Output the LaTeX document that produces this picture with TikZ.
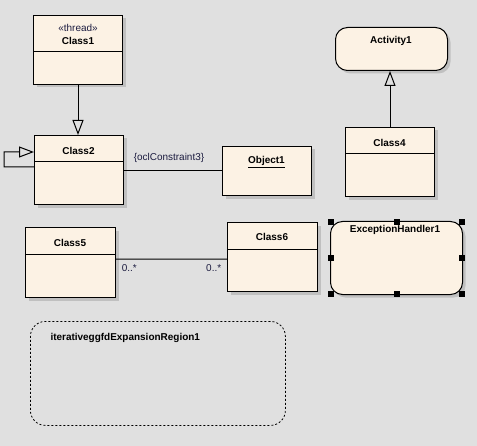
\documentclass[tikz,border=0pt]{standalone}
\usepackage{fontspec}
\setmainfont{Liberation Sans}
\usepackage{xcolor}
\usepackage{tikz}
\usetikzlibrary{arrows.meta,shadows}

\definecolor{bgcol}{RGB}{224,224,224}
\definecolor{boxfill}{RGB}{252,242,228}
\definecolor{shadowcol}{RGB}{192,192,192}
\definecolor{labelcol}{RGB}{28,28,64}

\tikzset{
  boxshadow/.style={drop shadow={shadow xshift=3bp, shadow yshift=-3bp, fill=shadowcol, opacity=1}},
  classbox/.style={draw=black, line width=1bp, fill=boxfill, anchor=north west, inner sep=0pt, boxshadow},
  activitybox/.style={classbox, rounded corners=12bp},
  regionbox/.style={draw=black, line width=0.8bp, dash pattern=on 2bp off 2bp, rounded corners=15bp, anchor=north west, inner sep=0pt},
  divider/.style={line width=1bp},
  title/.style={font=\bfseries\fontsize{10}{12}\selectfont, text=black},
  tag/.style={font=\fontsize{10}{12}\selectfont, text=labelcol},
  gen/.style={line width=1bp, -{Triangle[open, length=15bp, width=11bp]}},
  assoc/.style={line width=1bp},
  handle/.style={fill=black, minimum size=6bp, inner sep=0pt}
}

\begin{document}
\begin{tikzpicture}[x=1bp, y=-1bp]
\fill[bgcol] (0,0) rectangle (477,446);
\useasboundingbox (0,0) rectangle (477,446);

% classes
\node[classbox, minimum width=89bp, minimum height=69bp] (c1) at (33,15) {};
\node[tag] (c1tag) at (78,28) {«thread»};
\node[title] (c1name) at (78,41) {Class1};
\draw[divider] ([yshift=-37bp]c1.north west) -- ([yshift=-37bp]c1.north east);

\node[classbox, minimum width=89bp, minimum height=69bp] (c2) at (34,135) {};
\node[title] (c2name) at (78.5,151) {Class2};
\draw[divider] ([yshift=-27bp]c2.north west) -- ([yshift=-27bp]c2.north east);

\node[classbox, minimum width=89bp, minimum height=49bp] (obj1) at (222,146) {};
\node[title] (obj1name) at (266.5,162) {\underline{Object1}};

\node[activitybox, minimum width=112bp, minimum height=43bp] (act1) at (335,27) {};
\node[title] (act1name) at (391,41) {Activity1};

\node[classbox, minimum width=89bp, minimum height=69bp] (c4) at (345,127) {};
\node[title] (c4name) at (389.5,143) {Class4};
\draw[divider] ([yshift=-27bp]c4.north west) -- ([yshift=-27bp]c4.north east);

\node[classbox, minimum width=90bp, minimum height=70bp] (c5) at (25,227) {};
\node[title] (c5name) at (70,243) {Class5};
\draw[divider] ([yshift=-27bp]c5.north west) -- ([yshift=-27bp]c5.north east);

\node[classbox, minimum width=90bp, minimum height=69bp] (c6) at (227,222) {};
\node[title] (c6name) at (272,237) {Class6};
\draw[divider] ([yshift=-27bp]c6.north west) -- ([yshift=-27bp]c6.north east);

\node[activitybox, minimum width=132bp, minimum height=73bp] (exc1) at (330,221) {};
\node[title] (exc1name) at (395,230) {ExceptionHandler1};

\node[handle] (h1) at ([xshift=1bp, yshift=-1bp]exc1.north west) {};
\node[handle] (h2) at ([yshift=-1bp]exc1.north) {};
\node[handle] (h3) at ([xshift=-1bp, yshift=-1bp]exc1.north east) {};
\node[handle] (h4) at ([xshift=1bp]exc1.west) {};
\node[handle] (h5) at ([xshift=-1bp]exc1.east) {};
\node[handle] (h6) at ([xshift=1bp, yshift=1bp]exc1.south west) {};
\node[handle] (h7) at ([yshift=1bp]exc1.south) {};
\node[handle] (h8) at ([xshift=-1bp, yshift=1bp]exc1.south east) {};

\node[regionbox, minimum width=255bp, minimum height=104bp] (reg1) at (30,321) {};
\node[title, anchor=west] (reg1name) at (47,338) {iterativeggfdExpansionRegion1};

% connectors
\draw[gen] (c1.south) -- (c1.south |- c2.north);
\draw[gen] ([yshift=-32bp]c2.north west) -- ++(-30,0) -- ++(0,-15) -- ([yshift=-17bp]c2.north west);
\draw[gen] (c4.north) -- (c4.north |- act1.south);
\draw[assoc] (obj1.west -| c2.east) -- node[tag, above=5bp, xshift=-4bp] {\{oclConstraint3\}} (obj1.west);
\draw[assoc] ([yshift=-32bp]c5.north east) -- node[tag, pos=0, below right=2bp] {0..*} node[tag, pos=1, below left=2bp] {0..*} ([yshift=-37bp]c6.north west);
\end{tikzpicture}
\end{document}
